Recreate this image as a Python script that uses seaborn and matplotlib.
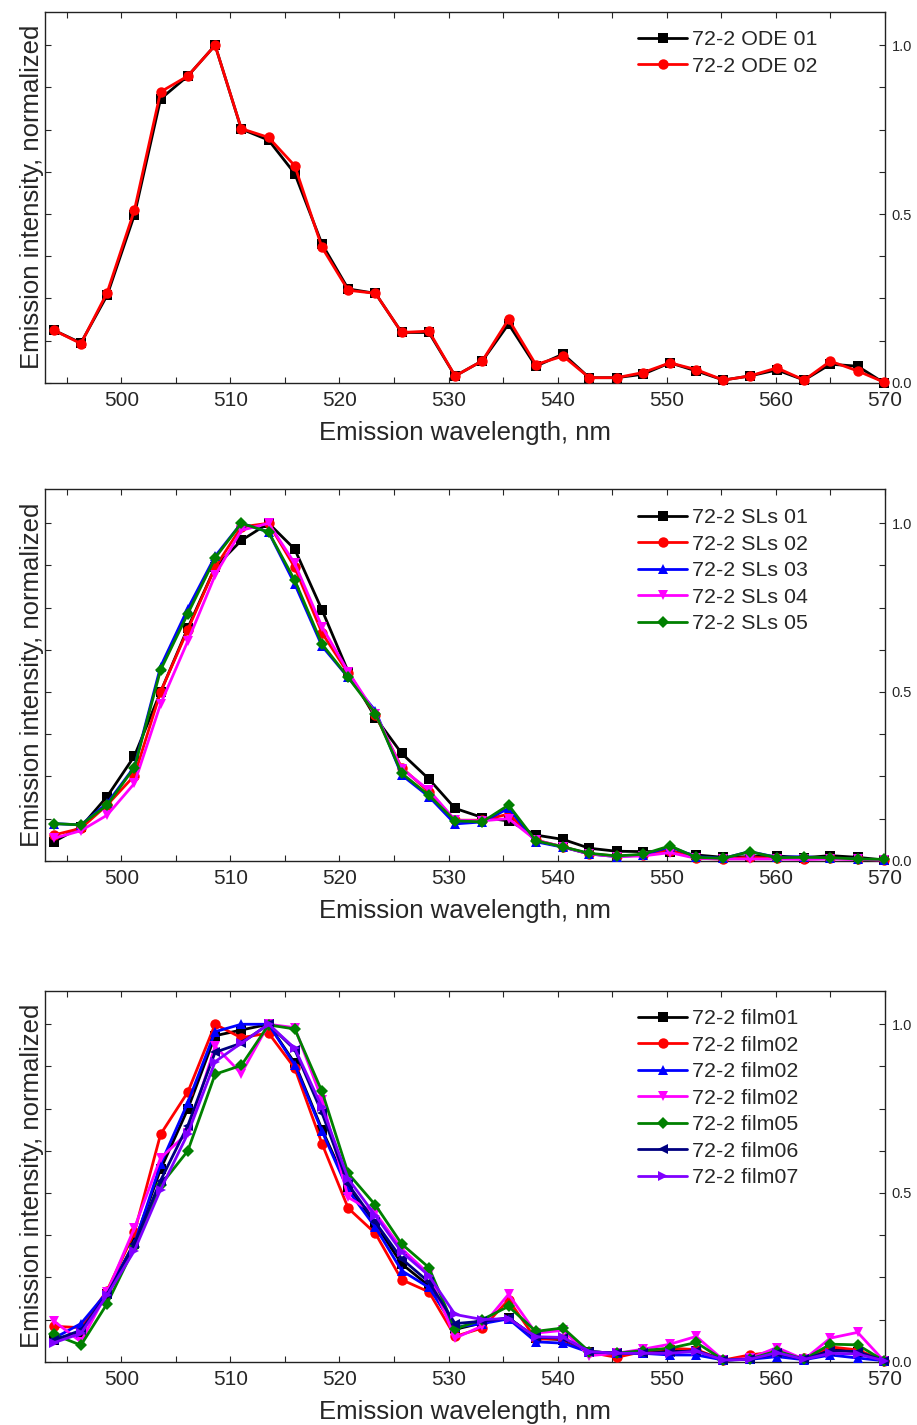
import matplotlib
matplotlib.use("Agg")
import matplotlib.pyplot as plt
from matplotlib.ticker import MultipleLocator, FormatStrFormatter
import seaborn as sns

# Emission wavelength grid (nm)
wavelength = [493.8, 496.3, 498.7, 501.2, 503.6, 506.1, 508.6, 511.0, 513.5, 515.9,
              518.4, 520.8, 523.3, 525.7, 528.2, 530.6, 533.1, 535.5, 538.0, 540.5,
              542.9, 545.4, 547.8, 550.3, 552.7, 555.2, 557.6, 560.1, 562.6, 565.0,
              567.5, 569.9]

# ODE samples
ode_01 = [0.156, 0.118, 0.259, 0.497, 0.841, 0.909, 1.0, 0.752, 0.719, 0.620,
          0.411, 0.278, 0.265, 0.149, 0.149, 0.020, 0.065, 0.174, 0.049, 0.085,
          0.015, 0.015, 0.025, 0.059, 0.035, 0.008, 0.020, 0.038, 0.008, 0.055,
          0.049, 0.000]
ode_02 = [0.156, 0.116, 0.267, 0.511, 0.862, 0.909, 1.0, 0.753, 0.727, 0.643,
          0.401, 0.274, 0.265, 0.149, 0.153, 0.020, 0.065, 0.188, 0.054, 0.079,
          0.015, 0.015, 0.030, 0.059, 0.039, 0.008, 0.020, 0.044, 0.008, 0.064,
          0.035, 0.002]

# SLs samples
sls_01 = [0.056, 0.100, 0.190, 0.310, 0.500, 0.690, 0.870, 0.949, 1.0, 0.923,
          0.743, 0.560, 0.424, 0.318, 0.242, 0.155, 0.128, 0.118, 0.076, 0.063,
          0.037, 0.028, 0.027, 0.027, 0.017, 0.010, 0.012, 0.014, 0.009, 0.015,
          0.010, 0.002]
sls_02 = [0.076, 0.096, 0.165, 0.252, 0.500, 0.685, 0.869, 0.989, 1.0, 0.869,
          0.675, 0.555, 0.431, 0.276, 0.204, 0.120, 0.120, 0.138, 0.061, 0.041,
          0.020, 0.014, 0.017, 0.030, 0.007, 0.005, 0.010, 0.007, 0.005, 0.007,
          0.004, 0.002]
sls_03 = [0.110, 0.106, 0.170, 0.278, 0.575, 0.747, 0.902, 1.0, 0.974, 0.820,
          0.636, 0.543, 0.444, 0.254, 0.190, 0.109, 0.115, 0.155, 0.056, 0.040,
          0.020, 0.012, 0.017, 0.041, 0.012, 0.007, 0.027, 0.010, 0.012, 0.007,
          0.005, 0.002]
sls_04 = [0.066, 0.089, 0.135, 0.229, 0.464, 0.651, 0.846, 0.979, 1.0, 0.881,
          0.693, 0.560, 0.436, 0.273, 0.209, 0.120, 0.118, 0.125, 0.061, 0.041,
          0.020, 0.012, 0.014, 0.024, 0.007, 0.005, 0.005, 0.005, 0.004, 0.005,
          0.004, 0.002]
sls_05 = [0.110, 0.106, 0.165, 0.276, 0.565, 0.732, 0.897, 1.0, 0.974, 0.831,
          0.642, 0.543, 0.436, 0.259, 0.194, 0.118, 0.115, 0.165, 0.059, 0.041,
          0.022, 0.014, 0.019, 0.044, 0.010, 0.007, 0.027, 0.009, 0.010, 0.009,
          0.005, 0.004]

# Film samples
film_01 = [0.064, 0.088, 0.200, 0.354, 0.570, 0.749, 0.966, 0.983, 1.0, 0.885,
           0.688, 0.516, 0.408, 0.290, 0.225, 0.096, 0.115, 0.130, 0.070, 0.065,
           0.030, 0.025, 0.025, 0.035, 0.033, 0.005, 0.008, 0.025, 0.007, 0.040,
           0.028, 0.003]
film_02a = [0.105, 0.101, 0.211, 0.383, 0.674, 0.799, 1.0, 0.960, 0.974, 0.870,
            0.646, 0.455, 0.380, 0.243, 0.207, 0.075, 0.100, 0.183, 0.067, 0.068,
            0.028, 0.013, 0.030, 0.040, 0.036, 0.005, 0.020, 0.030, 0.010, 0.044,
            0.035, 0.003]
film_02b = [0.069, 0.113, 0.206, 0.349, 0.585, 0.768, 0.978, 1.0, 1.0, 0.880,
            0.683, 0.508, 0.398, 0.270, 0.220, 0.102, 0.113, 0.127, 0.059, 0.055,
            0.028, 0.025, 0.025, 0.020, 0.020, 0.005, 0.007, 0.015, 0.006, 0.020,
            0.011, 0.003]
film_02c = [0.121, 0.059, 0.206, 0.396, 0.604, 0.678, 0.935, 0.854, 1.0, 0.990,
            0.777, 0.487, 0.440, 0.335, 0.260, 0.070, 0.106, 0.200, 0.085, 0.093,
            0.018, 0.025, 0.037, 0.052, 0.075, 0.005, 0.010, 0.042, 0.007, 0.070,
            0.087, 0.003]
film_05 = [0.081, 0.049, 0.172, 0.339, 0.523, 0.625, 0.852, 0.878, 0.998, 0.986,
           0.801, 0.558, 0.464, 0.349, 0.279, 0.097, 0.125, 0.164, 0.090, 0.100,
           0.030, 0.025, 0.033, 0.040, 0.057, 0.005, 0.008, 0.032, 0.007, 0.052,
           0.050, 0.003]
film_06 = [0.064, 0.093, 0.200, 0.349, 0.537, 0.700, 0.917, 0.944, 1.0, 0.925,
           0.737, 0.526, 0.413, 0.305, 0.236, 0.113, 0.120, 0.130, 0.072, 0.070,
           0.030, 0.025, 0.025, 0.028, 0.033, 0.005, 0.007, 0.025, 0.007, 0.033,
           0.030, 0.003]
film_07 = [0.056, 0.084, 0.197, 0.329, 0.510, 0.676, 0.889, 0.944, 1.0, 0.929,
           0.754, 0.542, 0.433, 0.325, 0.255, 0.140, 0.125, 0.128, 0.074, 0.072,
           0.030, 0.025, 0.025, 0.025, 0.031, 0.005, 0.007, 0.027, 0.007, 0.025,
           0.023, 0.003]

panels = [
    [("72-2 ODE 01", ode_01), ("72-2 ODE 02", ode_02)],
    [("72-2 SLs 01", sls_01), ("72-2 SLs 02", sls_02), ("72-2 SLs 03", sls_03),
     ("72-2 SLs 04", sls_04), ("72-2 SLs 05", sls_05)],
    [("72-2 film01", film_01), ("72-2 film02", film_02a), ("72-2 film02", film_02b),
     ("72-2 film02", film_02c), ("72-2 film05", film_05), ("72-2 film06", film_06),
     ("72-2 film07", film_07)],
]

colors = ["#000000", "#FF0000", "#0000FF", "#FF00FF", "#008000", "#000080", "#8000FF"]
markers = ["s", "o", "^", "v", "D", "<", ">"]
msizes = [6.5, 7.5, 7.5, 7.5, 6.5, 7.5, 7.5]

sns.set_style("white")
plt.rcParams["font.family"] = ["Liberation Sans", "DejaVu Sans"]

fig = plt.figure(figsize=(9.17, 14.25), dpi=100)
bottoms = [0.7314, 0.3960, 0.0444]

for series, y0 in zip(panels, bottoms):
    ax = fig.add_axes([0.049, y0, 0.916, 0.2605])
    for i, (name, vals) in enumerate(series):
        sns.lineplot(x=wavelength, y=vals, ax=ax, color=colors[i], marker=markers[i],
                     markersize=msizes[i], markeredgewidth=0, linewidth=2.0,
                     label=name, clip_on=False, zorder=3 + i)
    ax.set_xlim(493, 570)
    ax.set_ylim(0, 1.1)
    ax.xaxis.set_major_locator(MultipleLocator(10))
    ax.xaxis.set_minor_locator(MultipleLocator(5))
    ax.yaxis.set_major_locator(MultipleLocator(0.5))
    ax.yaxis.set_minor_locator(MultipleLocator(0.125))
    ax.yaxis.set_major_formatter(FormatStrFormatter("%.1f"))
    ax.tick_params(axis="x", which="both", direction="in", top=True, bottom=True,
                   length=4, width=0.8, labelsize=15, pad=6)
    ax.tick_params(axis="y", which="both", direction="in", left=True, right=True,
                   labelleft=False, labelright=True, length=4, width=0.8,
                   labelsize=10.5, pad=5)
    for sp in ax.spines.values():
        sp.set_linewidth(1.0)
        sp.set_color("#222222")
    ax.set_xlabel("Emission wavelength, nm", fontsize=18.5, labelpad=8)
    ax.set_ylabel("Emission intensity, normalized", fontsize=18.5, labelpad=1)
    ax.legend(loc="upper left", bbox_to_anchor=(0.706, 0.95), frameon=False,
              fontsize=15.4, handlelength=2.3, handletextpad=0.22, labelspacing=0.35,
              borderpad=0, borderaxespad=0)

fig.savefig("out.png", dpi=100)
